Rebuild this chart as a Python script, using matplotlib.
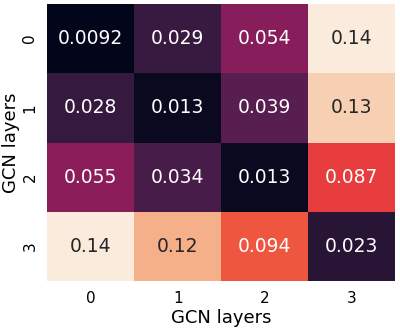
import numpy as np
import seaborn as sns
from matplotlib import pyplot as plt

layers = [0, 1, 2, 3]
row0 = [0.0092, 0.029, 0.054, 0.14]
row1 = [0.028, 0.013, 0.039, 0.13]
row2 = [0.055, 0.034, 0.013, 0.087]
row3 = [0.14, 0.12, 0.094, 0.023]

data = np.array([row0, row1, row2, row3])

fig, ax = plt.subplots(figsize=(4, 3.28), dpi=100)
sns.heatmap(data, annot=True, cmap='rocket', cbar=False, ax=ax,
            xticklabels=layers, yticklabels=layers,
            annot_kws={'fontsize': 13.5})
ax.set_xlabel('GCN layers', fontsize=13, labelpad=2)
ax.set_ylabel('GCN layers', fontsize=13, labelpad=2)
ax.tick_params(labelsize=11, length=0, pad=7)

fig.subplots_adjust(left=0.118, right=0.988, top=0.988, bottom=0.143)
fig.savefig('out.png')
